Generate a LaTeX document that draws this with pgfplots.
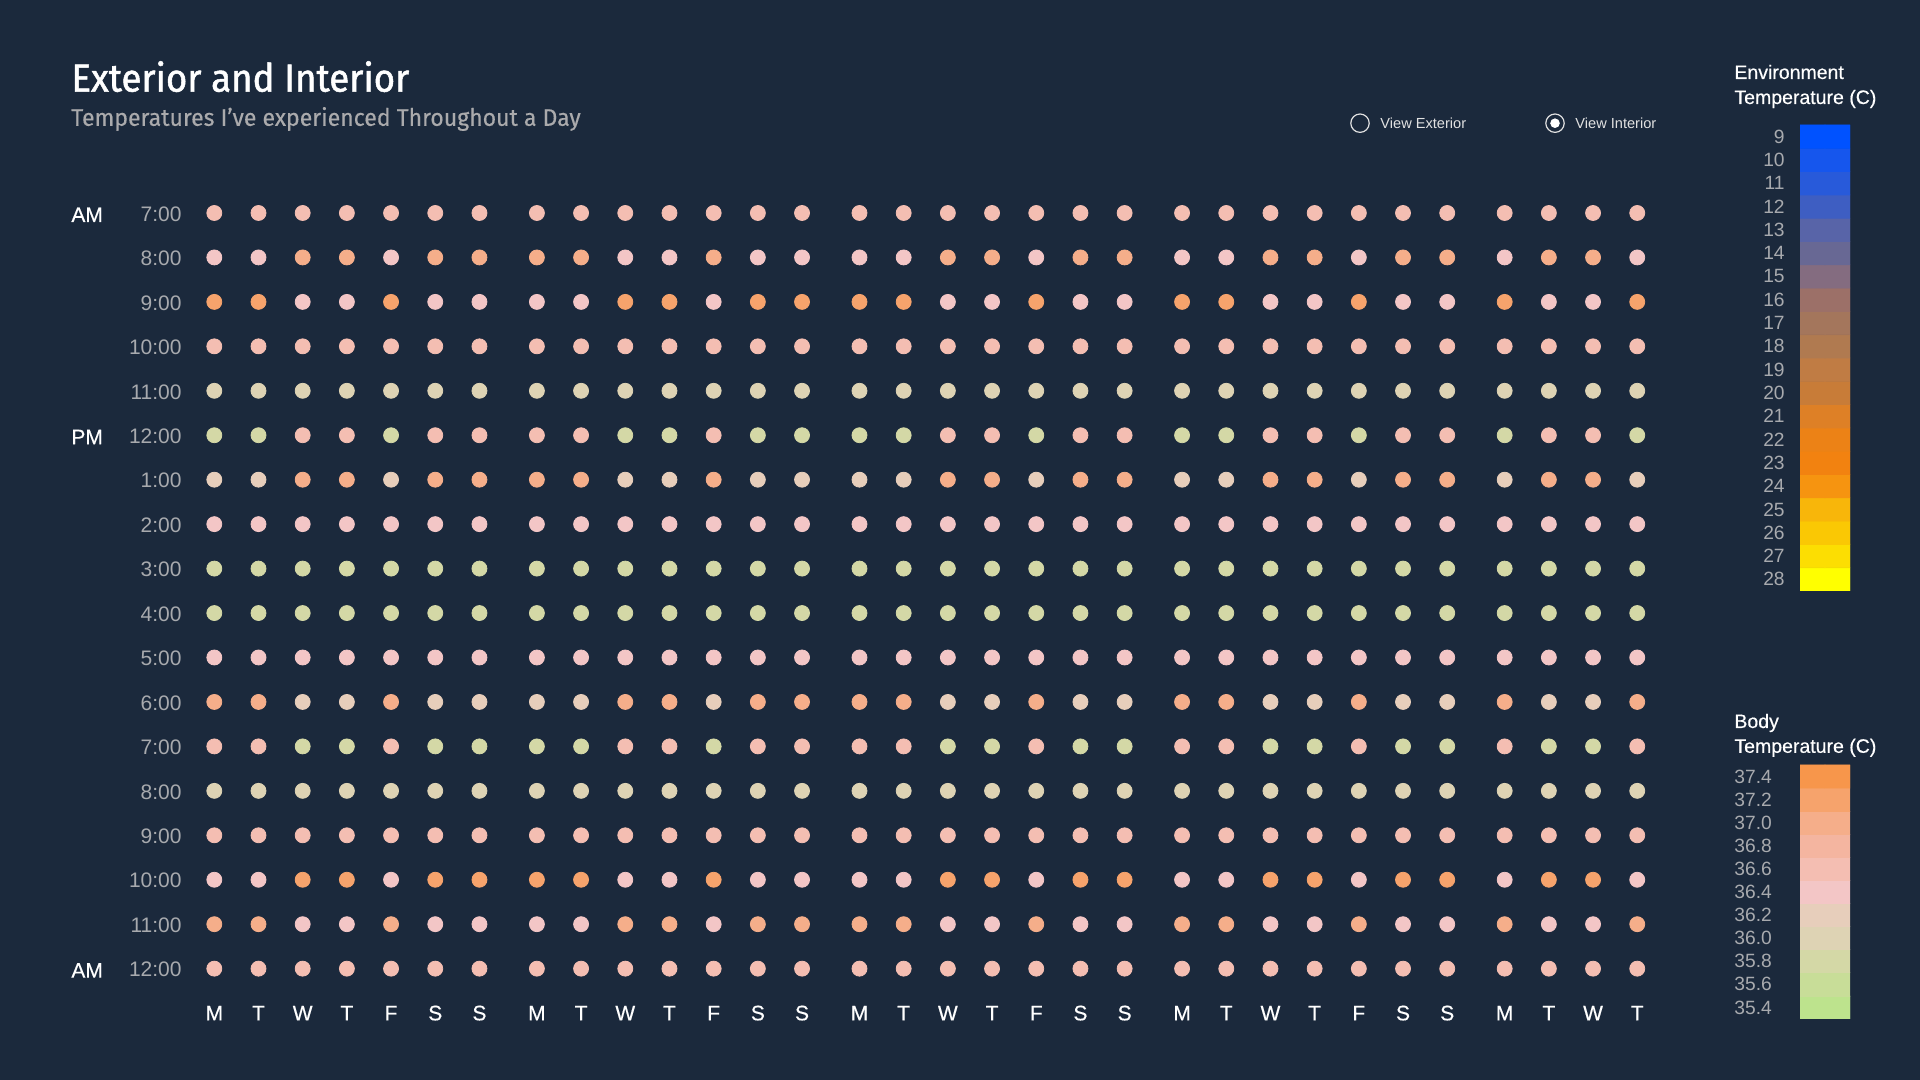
\documentclass[border=0pt]{standalone}
\usepackage{pgfplots}
\pgfplotsset{compat=1.18}
\usepackage{pgfplotstable}
\usepackage{fontspec}
\setmainfont{Liberation Sans}
\newfontfamily\titlefont[FakeStretch=0.94, FakeBold=1.3]{Fira Sans}
\newfontfamily\subfont[FakeStretch=0.96, FakeBold=0.4]{Fira Sans}
\newfontfamily\medfont[FakeBold=0.4]{Liberation Sans}
\definecolor{bg}{RGB}{27,41,60}
\definecolor{ticklab}{RGB}{168,170,174}
\definecolor{subt}{RGB}{170,170,172}
\definecolor{radio}{RGB}{225,225,225}

\pgfplotsset{colormap={body}{rgb255=(189,227,141) rgb255=(200,221,152) rgb255=(212,216,166) rgb255=(222,211,180) rgb255=(231,206,187) rgb255=(243,198,198) rgb255=(244,190,178) rgb255=(244,181,160) rgb255=(245,174,138) rgb255=(246,163,108) rgb255=(247,150,75)}}
\pgfplotsset{colormap={env}{rgb255=(0,82,255) rgb255=(22,86,237) rgb255=(40,90,218) rgb255=(62,94,194) rgb255=(88,100,168) rgb255=(104,104,148) rgb255=(132,108,128) rgb255=(156,112,104) rgb255=(164,118,92) rgb255=(176,122,80) rgb255=(192,124,68) rgb255=(200,124,56) rgb255=(222,128,38) rgb255=(236,130,22) rgb255=(242,130,16) rgb255=(246,148,16) rgb255=(248,182,10) rgb255=(250,200,4) rgb255=(252,222,2) rgb255=(255,255,0)}}

% body temperature: d = day index (0..31), r0 = 7:00 AM ... r17 = 12:00 AM
\pgfplotstableread{
d r0 r1 r2 r3 r4 r5 r6 r7 r8 r9 r10 r11 r12 r13 r14 r15 r16 r17
0 36.6 36.4 37.2 36.6 36.0 35.8 36.2 36.4 35.8 35.8 36.4 37.0 36.6 36.0 36.6 36.4 37.0 36.6
1 36.6 36.4 37.2 36.6 36.0 35.8 36.2 36.4 35.8 35.8 36.4 37.0 36.6 36.0 36.6 36.4 37.0 36.6
2 36.6 37.0 36.4 36.6 36.0 36.6 37.0 36.4 35.8 35.8 36.4 36.2 35.8 36.0 36.6 37.2 36.4 36.6
3 36.6 37.0 36.4 36.6 36.0 36.6 37.0 36.4 35.8 35.8 36.4 36.2 35.8 36.0 36.6 37.2 36.4 36.6
4 36.6 36.4 37.2 36.6 36.0 35.8 36.2 36.4 35.8 35.8 36.4 37.0 36.6 36.0 36.6 36.4 37.0 36.6
5 36.6 37.0 36.4 36.6 36.0 36.6 37.0 36.4 35.8 35.8 36.4 36.2 35.8 36.0 36.6 37.2 36.4 36.6
6 36.6 37.0 36.4 36.6 36.0 36.6 37.0 36.4 35.8 35.8 36.4 36.2 35.8 36.0 36.6 37.2 36.4 36.6
7 36.6 37.0 36.4 36.6 36.0 36.6 37.0 36.4 35.8 35.8 36.4 36.2 35.8 36.0 36.6 37.2 36.4 36.6
8 36.6 37.0 36.4 36.6 36.0 36.6 37.0 36.4 35.8 35.8 36.4 36.2 35.8 36.0 36.6 37.2 36.4 36.6
9 36.6 36.4 37.2 36.6 36.0 35.8 36.2 36.4 35.8 35.8 36.4 37.0 36.6 36.0 36.6 36.4 37.0 36.6
10 36.6 36.4 37.2 36.6 36.0 35.8 36.2 36.4 35.8 35.8 36.4 37.0 36.6 36.0 36.6 36.4 37.0 36.6
11 36.6 37.0 36.4 36.6 36.0 36.6 37.0 36.4 35.8 35.8 36.4 36.2 35.8 36.0 36.6 37.2 36.4 36.6
12 36.6 36.4 37.2 36.6 36.0 35.8 36.2 36.4 35.8 35.8 36.4 37.0 36.6 36.0 36.6 36.4 37.0 36.6
13 36.6 36.4 37.2 36.6 36.0 35.8 36.2 36.4 35.8 35.8 36.4 37.0 36.6 36.0 36.6 36.4 37.0 36.6
14 36.6 36.4 37.2 36.6 36.0 35.8 36.2 36.4 35.8 35.8 36.4 37.0 36.6 36.0 36.6 36.4 37.0 36.6
15 36.6 36.4 37.2 36.6 36.0 35.8 36.2 36.4 35.8 35.8 36.4 37.0 36.6 36.0 36.6 36.4 37.0 36.6
16 36.6 37.0 36.4 36.6 36.0 36.6 37.0 36.4 35.8 35.8 36.4 36.2 35.8 36.0 36.6 37.2 36.4 36.6
17 36.6 37.0 36.4 36.6 36.0 36.6 37.0 36.4 35.8 35.8 36.4 36.2 35.8 36.0 36.6 37.2 36.4 36.6
18 36.6 36.4 37.2 36.6 36.0 35.8 36.2 36.4 35.8 35.8 36.4 37.0 36.6 36.0 36.6 36.4 37.0 36.6
19 36.6 37.0 36.4 36.6 36.0 36.6 37.0 36.4 35.8 35.8 36.4 36.2 35.8 36.0 36.6 37.2 36.4 36.6
20 36.6 37.0 36.4 36.6 36.0 36.6 37.0 36.4 35.8 35.8 36.4 36.2 35.8 36.0 36.6 37.2 36.4 36.6
21 36.6 36.4 37.2 36.6 36.0 35.8 36.2 36.4 35.8 35.8 36.4 37.0 36.6 36.0 36.6 36.4 37.0 36.6
22 36.6 36.4 37.2 36.6 36.0 35.8 36.2 36.4 35.8 35.8 36.4 37.0 36.6 36.0 36.6 36.4 37.0 36.6
23 36.6 37.0 36.4 36.6 36.0 36.6 37.0 36.4 35.8 35.8 36.4 36.2 35.8 36.0 36.6 37.2 36.4 36.6
24 36.6 37.0 36.4 36.6 36.0 36.6 37.0 36.4 35.8 35.8 36.4 36.2 35.8 36.0 36.6 37.2 36.4 36.6
25 36.6 36.4 37.2 36.6 36.0 35.8 36.2 36.4 35.8 35.8 36.4 37.0 36.6 36.0 36.6 36.4 37.0 36.6
26 36.6 37.0 36.4 36.6 36.0 36.6 37.0 36.4 35.8 35.8 36.4 36.2 35.8 36.0 36.6 37.2 36.4 36.6
27 36.6 37.0 36.4 36.6 36.0 36.6 37.0 36.4 35.8 35.8 36.4 36.2 35.8 36.0 36.6 37.2 36.4 36.6
28 36.6 36.4 37.2 36.6 36.0 35.8 36.2 36.4 35.8 35.8 36.4 37.0 36.6 36.0 36.6 36.4 37.0 36.6
29 36.6 37.0 36.4 36.6 36.0 36.6 37.0 36.4 35.8 35.8 36.4 36.2 35.8 36.0 36.6 37.2 36.4 36.6
30 36.6 37.0 36.4 36.6 36.0 36.6 37.0 36.4 35.8 35.8 36.4 36.2 35.8 36.0 36.6 37.2 36.4 36.6
31 36.6 36.4 37.2 36.6 36.0 35.8 36.2 36.4 35.8 35.8 36.4 37.0 36.6 36.0 36.6 36.4 37.0 36.6
}\bodydata

\begin{document}
\begin{tikzpicture}
\fill[bg] (0,0) rectangle (960bp,540bp);

% titles
\node[anchor=base west, inner sep=0pt, text=white, font=\titlefont\fontsize{19.5bp}{22bp}\selectfont] at (35.5bp,494.2bp) {Exterior and Interior};
\node[anchor=base west, inner sep=0pt, text=subt, font=\subfont\fontsize{12bp}{14bp}\selectfont] at (35.5bp,477.1bp) {Temperatures I’ve experienced Throughout a Day};

% radio buttons
\draw[radio, line width=0.6bp] (680bp,478.4bp) circle[radius=4.6bp];
\node[anchor=west, inner sep=0pt, text=radio, font=\fontsize{7.3bp}{9bp}\selectfont] at (690bp,478.4bp) {View Exterior};
\draw[radio, line width=0.6bp] (777.5bp,478.4bp) circle[radius=4.6bp];
\fill[white] (777.5bp,478.4bp) circle[radius=2.4bp];
\node[anchor=west, inner sep=0pt, text=radio, font=\fontsize{7.3bp}{9bp}\selectfont] at (787.5bp,478.4bp) {View Interior};

% main dot grid
\begin{axis}[
  at={(85.06bp,33.45bp)}, anchor=south west,
  x=22.095bp, y=22.225bp,
  xmin=-1, xmax=33.2, ymin=-1, ymax=18,
  clip=false,
  axis line style={draw=none}, tick style={draw=none}, major tick length=0pt,
  xtick={0,1,2,3,4,5,6,7.3,8.3,9.3,10.3,11.3,12.3,13.3,14.6,15.6,16.6,17.6,18.6,19.6,20.6,21.9,22.9,23.9,24.9,25.9,26.9,27.9,29.2,30.2,31.2,32.2},
  xticklabels={M,T,W,T,F,S,S,M,T,W,T,F,S,S,M,T,W,T,F,S,S,M,T,W,T,F,S,S,M,T,W,T},
  xticklabel style={anchor=center, inner sep=0pt, text=white, font=\medfont\fontsize{10.5bp}{12bp}\selectfont},
  ytick={0,...,17},
  yticklabels={12:00,11:00,10:00,9:00,8:00,7:00,6:00,5:00,4:00,3:00,2:00,1:00,12:00,11:00,10:00,9:00,8:00,7:00},
  yticklabel style={anchor=east, inner sep=0pt, xshift=5.94bp, yshift=-0.5bp, text=ticklab, font=\fontsize{10.5bp}{12bp}\selectfont},
  colormap name=body, point meta min=35.4, point meta max=37.4,
]
\pgfplotsinvokeforeach{0,...,17}{
  \addplot[scatter, only marks, mark=*, mark size=3.75bp, scatter src=explicit,
    scatter/use mapped color={draw=mapped color, fill=mapped color}]
    table[x expr={\thisrow{d}+0.3*floor((\thisrow{d}+0.5)/7)}, y expr={17-#1}, meta=r#1] {\bodydata};
}
\node[anchor=west, inner sep=0pt, text=white, font=\medfont\fontsize{10.5bp}{12bp}\selectfont] at (axis cs:-3.243,16.96) {AM};
\node[anchor=west, inner sep=0pt, text=white, font=\medfont\fontsize{10.5bp}{12bp}\selectfont] at (axis cs:-3.243,11.96) {PM};
\node[anchor=west, inner sep=0pt, text=white, font=\medfont\fontsize{10.5bp}{12bp}\selectfont] at (axis cs:-3.243,-0.04) {AM};
\end{axis}

% environment colour scale
\node[anchor=base west, inner sep=0pt, text=white, font=\medfont\fontsize{9.75bp}{12bp}\selectfont] at (867bp,500.5bp) {Environment};
\node[anchor=base west, inner sep=0pt, text=white, font=\medfont\fontsize{9.75bp}{12bp}\selectfont] at (867bp,488bp) {Temperature (C)};
\begin{axis}[
  at={(900bp,244.5bp)}, anchor=south west, scale only axis,
  width=25bp, height=233bp,
  xmin=-0.5, xmax=1.5, ymin=-0.5, ymax=19.5,
  axis line style={draw=none}, tick style={draw=none}, major tick length=0pt,
  xtick=\empty,
  ytick={0,...,19},
  yticklabels={28,27,26,25,24,23,22,21,20,19,18,17,16,15,14,13,12,11,10,9},
  yticklabel style={anchor=east, inner sep=0pt, xshift=-7.5bp, text=ticklab, font=\fontsize{9.6bp}{11bp}\selectfont},
  colormap name=env, point meta min=9, point meta max=28,
]
\addplot[matrix plot*, mesh/cols=2, point meta=explicit] coordinates {
(0,0) [28] (1,0) [28]
(0,1) [27] (1,1) [27]
(0,2) [26] (1,2) [26]
(0,3) [25] (1,3) [25]
(0,4) [24] (1,4) [24]
(0,5) [23] (1,5) [23]
(0,6) [22] (1,6) [22]
(0,7) [21] (1,7) [21]
(0,8) [20] (1,8) [20]
(0,9) [19] (1,9) [19]
(0,10) [18] (1,10) [18]
(0,11) [17] (1,11) [17]
(0,12) [16] (1,12) [16]
(0,13) [15] (1,13) [15]
(0,14) [14] (1,14) [14]
(0,15) [13] (1,15) [13]
(0,16) [12] (1,16) [12]
(0,17) [11] (1,17) [11]
(0,18) [10] (1,18) [10]
(0,19) [9] (1,19) [9]
};
\end{axis}

% body colour scale
\node[anchor=base west, inner sep=0pt, text=white, font=\medfont\fontsize{9.75bp}{12bp}\selectfont] at (867bp,176bp) {Body};
\node[anchor=base west, inner sep=0pt, text=white, font=\medfont\fontsize{9.75bp}{12bp}\selectfont] at (867bp,163.6bp) {Temperature (C)};
\begin{axis}[
  at={(900bp,30.5bp)}, anchor=south west, scale only axis,
  width=25bp, height=127bp,
  xmin=-0.5, xmax=1.5, ymin=-0.5, ymax=10.5,
  axis line style={draw=none}, tick style={draw=none}, major tick length=0pt,
  xtick=\empty,
  ytick={0,...,10},
  yticklabels={35.4,35.6,35.8,36.0,36.2,36.4,36.6,36.8,37.0,37.2,37.4},
  yticklabel style={anchor=west, inner sep=0pt, xshift=-33bp, text=ticklab, font=\fontsize{9.6bp}{11bp}\selectfont},
  colormap name=body, point meta min=35.4, point meta max=37.4,
]
\addplot[matrix plot*, mesh/cols=2, point meta=explicit] coordinates {
(0,0) [35.4] (1,0) [35.4]
(0,1) [35.6] (1,1) [35.6]
(0,2) [35.8] (1,2) [35.8]
(0,3) [36.0] (1,3) [36.0]
(0,4) [36.2] (1,4) [36.2]
(0,5) [36.4] (1,5) [36.4]
(0,6) [36.6] (1,6) [36.6]
(0,7) [36.8] (1,7) [36.8]
(0,8) [37.0] (1,8) [37.0]
(0,9) [37.2] (1,9) [37.2]
(0,10) [37.4] (1,10) [37.4]
};
\end{axis}

\pgfresetboundingbox
\useasboundingbox (0,0) rectangle (960bp,540bp);
\end{tikzpicture}
\end{document}
